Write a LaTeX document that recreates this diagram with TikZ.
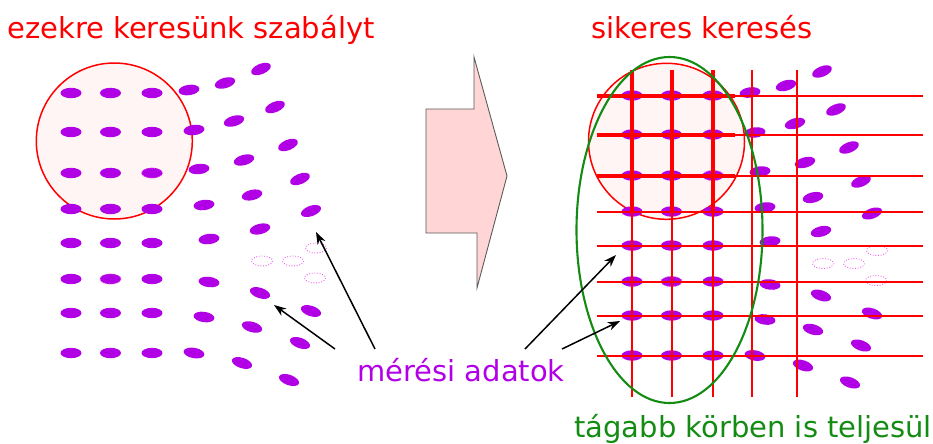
\documentclass[tikz,border=0pt]{standalone}
\usepackage{fontspec}
\setmainfont{DejaVu Sans}
\usepackage{tikz}
\usetikzlibrary{arrows.meta}

\definecolor{measpurple}{RGB}{178,0,230}
\definecolor{ghostpink}{RGB}{240,90,240}
\definecolor{ruleblush}{RGB}{255,245,245}
\definecolor{shiftpink}{RGB}{255,213,213}
\definecolor{widegreen}{RGB}{20,140,20}
\definecolor{gridred}{RGB}{255,0,0}

% the measured points, in the coordinates of the left panel
\newcommand{\measfield}{%
  % regular 3x8 block
  \foreach \y in {93,132,173,209,243,279,313,353} {
    \foreach \x in {71,110.5,152} {
      \fill[blob] (\x,\y) ellipse [x radius=10.5, y radius=5.2];
    }
  }
  % the fan on the right, x/y/angle
  \foreach \x/\y/\a in {189/90/8, 194/130/7, 199/169/6, 204/205/7, 209/239/7,
                        209/282/-7, 204/317/-8, 194/353/-10,
                        225/83/16, 234/121/16, 244/160/15, 252/195/13, 260/229/14,
                        260/293/-18, 252/327/-16, 242/363/-18,
                        261/69/22, 275/107/22, 288/145/22, 300/179/22, 311/211/20,
                        311/311/-18, 300/343/-20, 289/380/-20} {
    \fill[blob, rotate around={\a:(\x,\y)}] (\x,\y) ellipse [x radius=10.5, y radius=5.2];
  }
  % missing values
  \foreach \x/\y in {152/173, 110.5/279, 262/261, 293/261, 316/248, 315/278} {
    \draw[ghost] (\x,\y) ellipse [x radius=10.5, y radius=5];
  }
}

\begin{document}
\begin{tikzpicture}[x=0.02cm, y=-0.02cm,
    blob/.style={fill=measpurple},
    ghost/.style={draw=ghostpink, densely dotted, line width=0.5pt},
    rulecircle/.style={draw=red, fill=ruleblush, line width=0.85pt},
    gridline/.style={fill=gridred},
    pointer/.style={-{Stealth[length=7pt,width=5pt]}, line width=0.85pt},
    caption/.style={anchor=base west, inner sep=0pt,
                    font=\fontsize{16.5}{20}\selectfont}]

\useasboundingbox (0,0) rectangle (933,443);

% titles
\node[caption, text=red] (lefttitle) at (7,38) {ezekre keresünk szabályt};
\node[caption, text=red] (righttitle) at (591,38) {sikeres keresés};

%% left panel
\draw[rulecircle] (114.3,141) circle [radius=78];
\measfield

%% shift arrow in the middle
\draw[fill=shiftpink, draw=black!65, line width=0.5pt]
    (426,109) -- (474,109) -- (474,57) -- (507,176)
    -- (477,288) -- (477,233) -- (426,233) -- cycle;

%% right panel
\draw[rulecircle] (666.5,141.3) circle [radius=78];
\begin{scope}[shift={(561,2.5)}]
  \measfield
\end{scope}
% search grid as bars on whole units, heavier inside the rule circle
\foreach \y in {96,135,176,212,246,282,316,356}
  \fill[gridline] (597,\y-1) rectangle (923,\y+1);
\foreach \x in {632,672,713,752,797}
  \fill[gridline] (\x-1,70) rectangle (\x+1,397);
\foreach \y in {96,135,176}
  \fill[gridline] (597,\y-2) rectangle (735,\y+2);
\foreach \x in {632,672,713}
  \fill[gridline] (\x-2,70) rectangle (\x+2,212);
\draw[widegreen, line width=1.2pt] (669.5,230) ellipse [x radius=93, y radius=173];

\node[caption, text=widegreen] (widetext) at (574,437) {tágabb körben is teljesül};

%% label and its pointers
\node[caption, text=measpurple] (meas) at (357,381) {mérési adatok};
\coordinate (ptA) at (316,232);
\coordinate (ptB) at (274,305);
\coordinate (ptC) at (616,255);
\coordinate (ptD) at (620,321);
\draw[pointer] ([shift={(18,-32)}]meas.base west) -- (ptA);
\draw[pointer] ([shift={(-22,-32)}]meas.base west) -- (ptB);
\draw[pointer] ([shift={(168,-32)}]meas.base west) -- (ptC);
\draw[pointer] ([shift={(205,-32)}]meas.base west) -- (ptD);

\end{tikzpicture}
\end{document}
